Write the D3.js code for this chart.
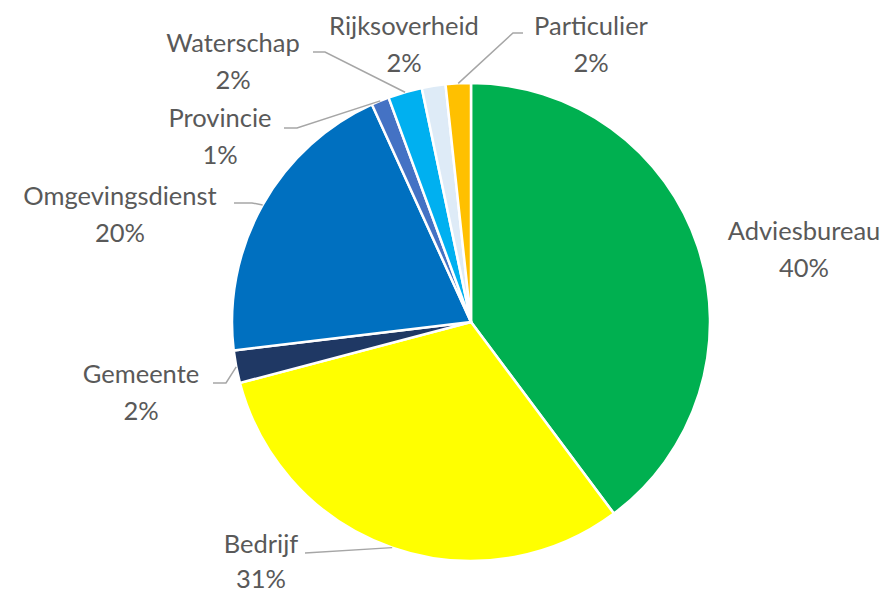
<!DOCTYPE html>
<html>
<head>
<meta charset="utf-8">
<script src="https://cdn.jsdelivr.net/npm/d3@7/dist/d3.min.js"></script>
<style>
  html, body { margin: 0; padding: 0; background: #fff; }
  svg { display: block; }
  text { font-family: Lato, "Open Sans", sans-serif; fill: #595959; }
</style>
</head>
<body>
<svg id="chart" width="890" height="593"></svg>
<script>
// ---- data ----
const categories = ["Adviesbureau", "Bedrijf", "Gemeente", "Omgevingsdienst", "Provincie", "Waterschap", "Rijksoverheid", "Particulier"];
const values = [39.8, 31.1, 2.2, 20.1, 1.2, 2.3, 1.6, 1.7];
const pctLabels = ["40%", "31%", "2%", "20%", "1%", "2%", "2%", "2%"];
const colors = ["#00B050", "#FFFF00", "#1F3864", "#0070C0", "#4472C4", "#00B0F0", "#DEEBF7", "#FFC000"];

// ---- layout ----
const W = 890, H = 593;
const cx = 471, cy = 322, R = 239;
// label anchor (center x, baseline y of first line, line gap) + optional leader start/elbow
const labelLayout = {
  "Adviesbureau":    { x: 804, y: 240, gap: 37 },
  "Bedrijf":         { x: 261, y: 553, gap: 35, lead: [[305, 553]] },
  "Gemeente":        { x: 141, y: 383, gap: 37, lead: [[213, 383], [226, 383]] },
  "Omgevingsdienst": { x: 120, y: 205, gap: 37, lead: [[234, 203], [252, 203]] },
  "Provincie":       { x: 220, y: 127, gap: 37, lead: [[284, 128], [297, 128]] },
  "Waterschap":      { x: 233, y: 52,  gap: 37, lead: [[313, 52], [325, 52]] },
  "Rijksoverheid":   { x: 404, y: 35,  gap: 37 },
  "Particulier":     { x: 591, y: 35,  gap: 37, lead: [[523, 33], [513, 33]] }
};

const svg = d3.select("#chart");
const g = svg.append("g").attr("transform", `translate(${cx},${cy})`);

const data = categories.map((c, i) => ({ name: c, value: values[i], pct: pctLabels[i], color: colors[i] }));
const pie = d3.pie().sort(null).value(d => d.value);
const arc = d3.arc().innerRadius(0).outerRadius(R);
const arcs = pie(data);

g.selectAll("path.slice")
  .data(arcs)
  .join("path")
  .attr("class", "slice")
  .attr("d", arc)
  .attr("fill", d => d.data.color)
  .attr("stroke", "#fff")
  .attr("stroke-width", 2.5)
  .attr("stroke-linejoin", "round");

// leader lines
const line = d3.line();
arcs.forEach(a => {
  const L = labelLayout[a.data.name];
  if (!L.lead) return;
  const mid = (a.startAngle + a.endAngle) / 2;
  const end = [cx + R * Math.sin(mid), cy - R * Math.cos(mid)];
  const pts = L.lead.concat([end]);
  svg.append("path")
    .attr("d", line(pts))
    .attr("fill", "none")
    .attr("stroke", "#A6A6A6")
    .attr("stroke-width", 1.5);
});

// labels
arcs.forEach(a => {
  const L = labelLayout[a.data.name];
  const t = svg.append("text")
    .attr("text-anchor", "middle")
    .attr("font-size", 25.5);
  t.append("tspan").attr("x", L.x).attr("y", L.y).text(a.data.name);
  t.append("tspan").attr("x", L.x).attr("y", L.y + L.gap).text(a.data.pct);
});
</script>
</body>
</html>
